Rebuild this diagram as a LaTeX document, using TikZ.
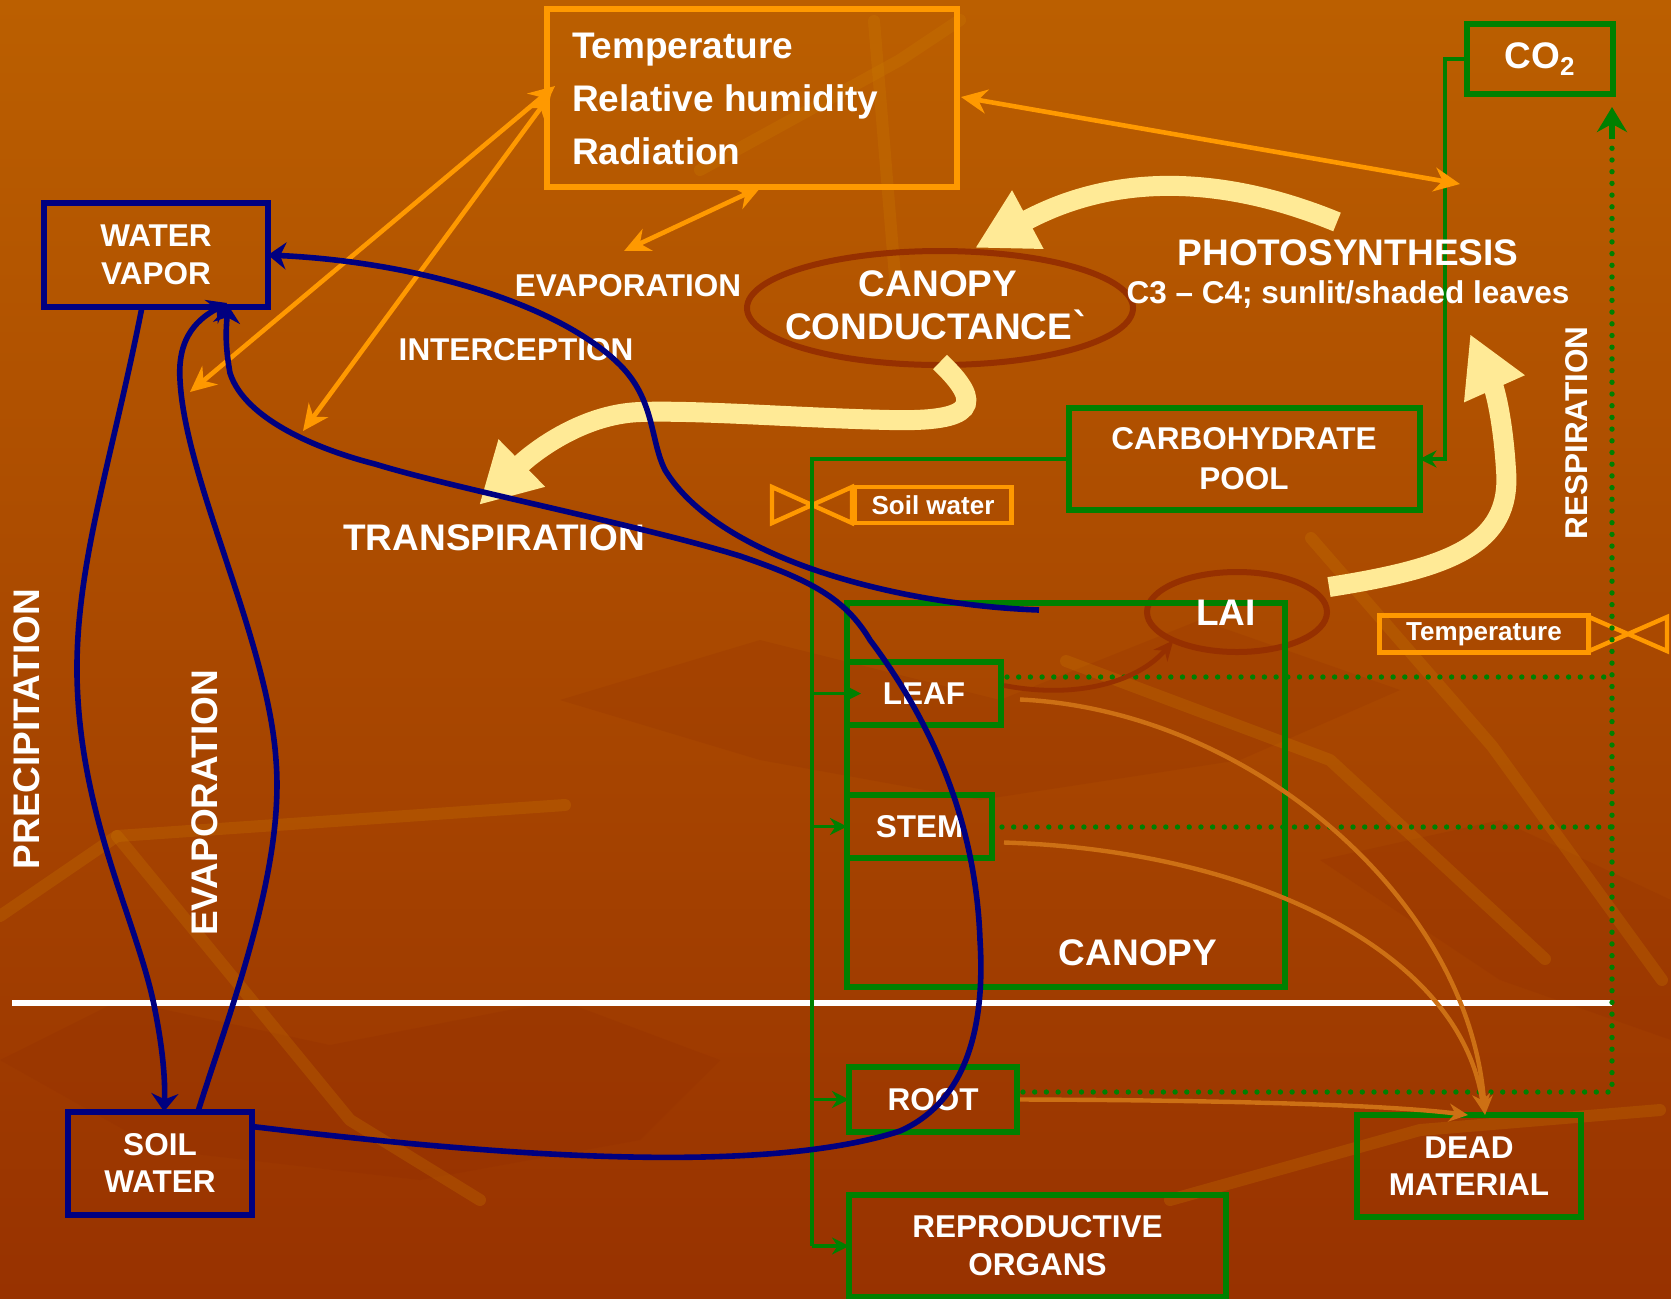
\documentclass[tikz,border=0pt]{standalone}
\usepackage{fontspec}
\setmainfont{Liberation Sans}
\newfontfamily\djv{DejaVu Sans}
\usetikzlibrary{arrows.meta,calc,shapes.geometric}
\definecolor{orng}{RGB}{255,153,0}
\definecolor{grn}{RGB}{0,128,0}
\definecolor{nvy}{RGB}{0,0,128}
\definecolor{ylw}{RGB}{255,234,150}
\definecolor{brn}{RGB}{150,48,0}
\definecolor{litter}{RGB}{205,112,20}
\definecolor{bgtop}{RGB}{187,95,0}
\definecolor{bgmid}{RGB}{168,70,0}
\definecolor{bgbot}{RGB}{152,50,0}
\definecolor{lite}{RGB}{205,125,0}
\definecolor{dark}{RGB}{140,40,0}
\begin{document}
\begin{tikzpicture}[x=0.5pt,y=-0.5pt,
  every node/.style={inner sep=0pt, outer sep=0pt},
  wtxt/.style={text=white, align=center},
  fbig/.style={font=\fontsize{18.5}{21.5}\selectfont\bfseries},
  fmed/.style={font=\fontsize{15.75}{19}\selectfont\bfseries},
  fsml/.style={font=\fontsize{13}{15}\selectfont\bfseries},
  obox/.style={draw=orng, line width=3pt, rectangle},
  gbox/.style={draw=grn, line width=3pt, rectangle},
  bbox/.style={draw=nvy, line width=3pt, rectangle},
  gline/.style={draw=grn, line width=1.7pt},
  gtip/.style={-{Stealth[length=8.5pt,width=8.5pt]}},
  gdot/.style={draw=grn, line width=2.7pt, line cap=round, dash pattern=on 0pt off 5.85pt},
  oarr/.style={draw=orng, line width=2.3pt, {Stealth[length=13pt,width=12pt]}-{Stealth[length=13pt,width=12pt]}},
  barr/.style={draw=nvy, line width=2.8pt, -{Stealth[length=9pt,width=13.5pt]}},
  yarr/.style={draw=ylw, line width=10pt, -{Triangle[length=30pt,width=31pt]}},
  litt/.style={draw=litter, line width=2.2pt, -{Stealth[length=9.5pt,width=9pt]}},
  deco/.style={draw=lite, opacity=0.25, line width=6pt, line cap=round, line join=round},
  decod/.style={fill=dark, opacity=0.16},
]
\useasboundingbox (0,0) rectangle (1671,1298);
% background
\shade[top color=bgtop, middle color=bgmid, bottom color=bgbot] (0,0) rectangle (1671,1298);
\fill[decod] (0,1060) -- (120,1000) -- (330,1045) -- (560,1000) -- (720,1060) -- (640,1140) -- (420,1180) -- (160,1150) -- cycle;
\fill[decod] (560,700) -- (760,640) -- (1000,700) -- (1200,620) -- (1400,690) -- (1240,760) -- (980,800) -- (760,760) -- cycle;
\fill[decod] (1320,860) -- (1500,820) -- (1671,900) -- (1671,1040) -- (1500,980) -- cycle;
\draw[deco] (0,916) -- (117,836) -- (565,805);
\draw[deco] (117,836) -- (350,1120) -- (480,1200);
\draw[deco] (1311,538) -- (1492,746) -- (1662,980);
\draw[deco] (1066,661) -- (1330,760) -- (1545,959);
\draw[deco] (874,21) -- (895,277);
\draw[deco] (1170,1200) -- (1420,1130) -- (1660,1110);
\draw[deco] (700,170) -- (900,60) -- (960,20);

% ellipses
\node[ellipse, draw=brn, line width=3pt, minimum width=193pt, minimum height=57pt] (ccond) at (940,308) {};
\node[ellipse, draw=brn, line width=3pt, minimum width=90pt, minimum height=40pt] (laiell) at (1237,612) {};

% boxes
\node[obox, minimum width=205pt, minimum height=89pt] (temp) at (752,98) {};
\node[wtxt, anchor=west, align=left, font=\fontsize{18.5}{26.5}\selectfont\bfseries] (temptxt) at (572,99) {Temperature\\Relative humidity\\Radiation};
\node[bbox, wtxt, font=\fontsize{15.75}{19}\selectfont\bfseries, minimum width=112pt, minimum height=52pt] (wv) at (156,255) {WATER\\VAPOR};
\node[bbox, wtxt, font=\fontsize{15.75}{18.5}\selectfont\bfseries, minimum width=92pt, minimum height=51.5pt] (sw) at (160,1163) {SOIL\\WATER};
\node[gbox, wtxt, fbig, minimum width=73pt, minimum height=35pt] (co2) at (1540,59) {CO\textsubscript{2}};
\node[gbox, wtxt, font=\fontsize{15.75}{20}\selectfont\bfseries, minimum width=175.5pt, minimum height=51pt] (carb) at (1244,459) {CARBOHYDRATE\\POOL};
\node[gbox, minimum width=219pt, minimum height=192pt] (canopy) at (1066,795) {};
\node[gbox, wtxt, fmed, minimum width=77pt, minimum height=31.5pt] (leaf) at (924,693.5) {LEAF};
\node[gbox, wtxt, fmed, minimum width=72.5pt, minimum height=31.5pt] (stem) at (919.5,826.5) {STEM};
\node[gbox, wtxt, fmed, minimum width=84pt, minimum height=32.5pt] (root) at (933,1099.5) {ROOT};
\node[gbox, wtxt, font=\fontsize{15.75}{19}\selectfont\bfseries, minimum width=188.5pt, minimum height=51pt] (repro) at (1037.5,1246) {REPRODUCTIVE\\ORGANS};
\node[gbox, wtxt, font=\fontsize{15.75}{18.5}\selectfont\bfseries, minimum width=112pt, minimum height=51pt] (dead) at (1469,1166) {DEAD\\MATERIAL};
\node[obox, line width=2.2pt, wtxt, fsml, minimum width=78.5pt, minimum height=18pt] (soilw) at (933,505) {Soil water};
\node[obox, line width=2.2pt, wtxt, fsml, minimum width=104.5pt, minimum height=18.5pt] (tempsm) at (1484,634) {Temperature};

% valves
\draw[orng, line width=2.2pt, line join=miter] (772,487) -- (852,523) -- (852,487) -- (772,523) -- cycle;
\draw[orng, line width=2.2pt, line join=miter] (1589,617) -- (1667,651) -- (1667,617) -- (1589,651) -- cycle;

% ground line
\draw[white, line width=2.7pt] (12,1003) -- (1612,1003);

% green connectors
\coordinate (trtop) at (812,459);
\coordinate (trbot) at (812,1246);
\draw[gline, gtip] (co2.west) -- ++(-22,0) |- (carb.east);
\draw[gline] (carb.west) -- (trtop) -- (trbot);
\draw[gline, gtip] (trtop |- leaf.west) -- ($(leaf.west)+(14,0)$);
\draw[gline, gtip] (trtop |- stem.west) -- (stem.west);
\draw[gline, gtip] (trtop |- root.west) -- (root.west);
\draw[gline, gtip] (trtop |- repro.west) -- (repro.west);

% dotted respiration lines
\coordinate (dL) at (1612,677);
\coordinate (dS) at (1612,827);
\coordinate (dR) at (1612,1092);
\coordinate (dTop) at (1612,107);
\draw[gdot] ($(leaf.east |- dL)+(6,0)$) -- (dL);
\draw[gdot] ($(stem.east |- dS)+(10,0)$) -- (dS);
\draw[gdot] ($(root.east |- dR)+(6,0)$) -- (dR) -- ($(dTop)+(0,30)$);
\draw[grn, line width=2.7pt, -{Stealth[length=12.5pt,width=15pt]}] ($(dTop)+(0,32)$) -- (dTop);

% litterfall and LAI
\draw[litt] ($(leaf.east)+(19,6)$) .. controls (1250,710) and (1470,900) .. ($(dead.north)+(16,0)$);
\draw[litt] ($(stem.east)+(12,16)$) .. controls (1250,850) and (1460,950) .. ($(dead.north)+(15,-2)$);
\draw[litt] ($(root.east)+(3,0)$) .. controls (1200,1100) and (1380,1104) .. ($(dead.north)+(-1,0)$);
\draw[brn, line width=2.4pt, -{Stealth[length=10pt,width=9pt]}] ($(leaf.east)+(3,-8)$) .. controls (1080,700) and (1140,680) .. (laiell.south west);

% yellow arrows
\coordinate (y1s) at (1337,222);
\coordinate (y1e) at (975,248);
\coordinate (y2e) at (479,505);
\coordinate (y3s) at (1329,587);
\coordinate (y3e) at (1470,334);
\draw[yarr] (y1s) .. controls (1230,178) and (1120,170) .. (y1e);
\draw[yarr] ($(ccond.south)+(0,-3)$) .. controls (985,405) and (975,422) .. (890,420) .. controls (800,418) and (700,410) .. (640,412) .. controls (580,414) and (530,455) .. (y2e);
\draw[yarr] (y3s) .. controls (1450,568) and (1512,545) .. (1506,470) .. controls (1503,420) and (1495,390) .. (y3e);

% orange arrows
\coordinate (o1) at (190,392);
\coordinate (o2) at (303,431);
\coordinate (o3) at (624,251);
\coordinate (o4) at (1460,184);
\draw[oarr] ($(temp.west)+(8,-12)$) -- (o1);
\draw[oarr] ($(temp.west)+(4,-4)$) -- (o2);
\draw[oarr] ($(temp.south)+(9,0)$) -- (o3);
\draw[oarr] ($(temp.east)+(4,-1)$) -- (o4);

% free texts
\node[wtxt, fbig] (ccondtxt) at (938,305) {CANOPY\\CONDUCTANCE{\djv\bfseries ˋ}};
\node[wtxt, fbig] (lai) at (1226,613) {LAI};
\node[wtxt, fbig] (canopytxt) at (1138,953) {CANOPY};
\node[wtxt, fmed] (evaptop) at (628,286) {EVAPORATION};
\node[wtxt, fmed] (intercep) at (516,350) {INTERCEPTION};
\node[wtxt, fbig] (transp) at (494,538) {TRANSPIRATION};
\node[wtxt, fbig] (photo) at (1348,253) {PHOTOSYNTHESIS};
\node[wtxt, fmed] (c3c4) at (1348,295) {C3 – C4; sunlit/shaded leaves};
\node[wtxt, fmed, rotate=90] (resp) at (1577,433) {RESPIRATION};
\node[wtxt, fbig, rotate=90] (precip) at (27,729) {PRECIPITATION};
\node[wtxt, fbig, rotate=90] (evapv) at (205,803) {EVAPORATION};

% blue water flows
\coordinate (ib) at (1039,610);
\draw[barr] ($(wv.south west)+(98,0)$) .. controls (110,470) and (70,580) .. (78,700) .. controls (86,830) and (140,930) .. (155,1010) .. controls (165,1060) and (165,1090) .. ($(sw.north west)+(96,0)$);
\draw[barr] ($(sw.north west)+(130,0)$) .. controls (230,1010) and (285,870) .. (276,760) .. controls (268,640) and (185,480) .. (180,380) .. controls (177,335) and (200,318) .. ($(wv.south west)+(183,-4)$);
\draw[barr] ($(sw.north east)+(0,15)$) .. controls (450,1150) and (750,1180) .. (900,1131) .. controls (970,1100) and (985,1020) .. (980,940) .. controls (975,800) and (915,700) .. (870,640) .. controls (845,598) and (810,580) .. (740,556) .. controls (640,525) and (460,490) .. (375,464) .. controls (320,450) and (245,420) .. (230,373) .. controls (225,345) and (226,330) .. ($(wv.south west)+(184,-2)$);
\draw[barr] (ib) .. controls (900,605) and (720,560) .. (665,470) .. controls (650,440) and (655,400) .. (620,365) .. controls (560,305) and (420,262) .. (wv.east);
\end{tikzpicture}
\end{document}
